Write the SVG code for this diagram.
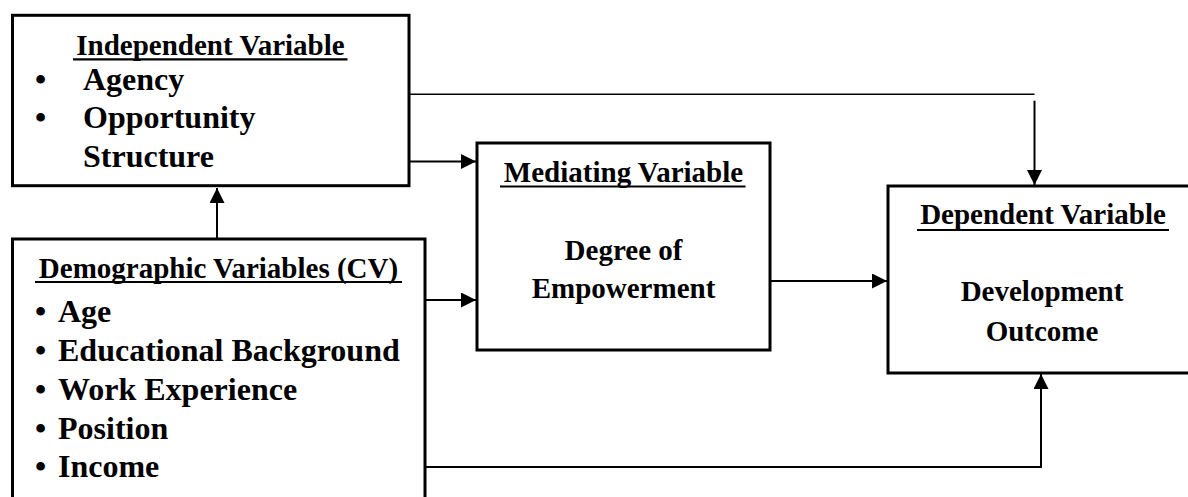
<svg xmlns="http://www.w3.org/2000/svg" width="1188" height="497" viewBox="0 0 1188 497">
<defs>
<style>
.box{fill:#fff;stroke:#000;stroke-width:3}
.t{font-family:"Liberation Serif","Times New Roman",serif;font-weight:bold;font-size:29px;fill:#000}
.li{font-family:"Liberation Serif","Times New Roman",serif;font-weight:bold;font-size:32px;fill:#000}
.c{text-anchor:middle}
.ul{stroke:#000;stroke-width:2.2}
.con{fill:none;stroke:#000;stroke-width:2}
</style>
<marker id="ah" markerUnits="userSpaceOnUse" markerWidth="16" markerHeight="15" refX="15" refY="7.5" orient="auto" viewBox="0 0 16 15">
<path d="M0,0 L15,7.5 L0,15 z" fill="#000"/>
</marker>
</defs>
<rect width="1188" height="497" fill="#fff"/>
<g id="connectors">
<path class="con" d="M217,239 V188" marker-end="url(#ah)"/>
<path class="con" d="M409,161.5 H476" marker-end="url(#ah)"/>
<path class="con" d="M409,94.3 H1034.5" style="stroke-width:1.6"/>
<path class="con" d="M1034.5,100.7 V185" marker-end="url(#ah)"/>
<path class="con" d="M425,300 H476" marker-end="url(#ah)"/>
<path class="con" d="M770,281 H887" marker-end="url(#ah)"/>
<path class="con" d="M425,467 H1041 V374" marker-end="url(#ah)"/>
</g>
<g id="independent">
<rect class="box" x="12.5" y="15.3" width="396.5" height="170.4"/>
<text class="t c" x="210.5" y="55">Independent Variable</text>
<line class="ul" x1="73" y1="59.3" x2="347.5" y2="59.3"/>
<text class="li" x="35" y="90">•</text>
<text class="li" x="83" y="90">Agency</text>
<text class="li" x="35" y="128">•</text>
<text class="li" x="83" y="128">Opportunity</text>
<text class="li" x="83" y="167">Structure</text>
</g>
<g id="demographic">
<rect class="box" x="12.5" y="239" width="412.5" height="280"/>
<text class="t c" x="218.5" y="278">Demographic Variables (CV)</text>
<line class="ul" x1="35" y1="282" x2="402" y2="282"/>
<text class="li" x="35" y="322">•</text>
<text class="li" x="58" y="322">Age</text>
<text class="li" x="35" y="361">•</text>
<text class="li" x="58" y="361">Educational Background</text>
<text class="li" x="35" y="400">•</text>
<text class="li" x="58" y="400">Work Experience</text>
<text class="li" x="35" y="439">•</text>
<text class="li" x="58" y="439">Position</text>
<text class="li" x="35" y="477">•</text>
<text class="li" x="58" y="477">Income</text>
</g>
<g id="mediating">
<rect class="box" x="477" y="143" width="293" height="207"/>
<text class="t c" x="623.5" y="182">Mediating Variable</text>
<line class="ul" x1="500" y1="186.5" x2="745.5" y2="186.5"/>
<text class="t c" x="623.5" y="260">Degree of</text>
<text class="t c" x="623.5" y="298">Empowerment</text>
</g>
<g id="dependent">
<rect class="box" x="888" y="186" width="312" height="187"/>
<text class="t c" x="1043" y="224">Dependent Variable</text>
<line class="ul" x1="917" y1="230" x2="1169" y2="230"/>
<text class="t c" x="1042" y="301">Development</text>
<text class="t c" x="1042" y="341">Outcome</text>
</g>
</svg>
